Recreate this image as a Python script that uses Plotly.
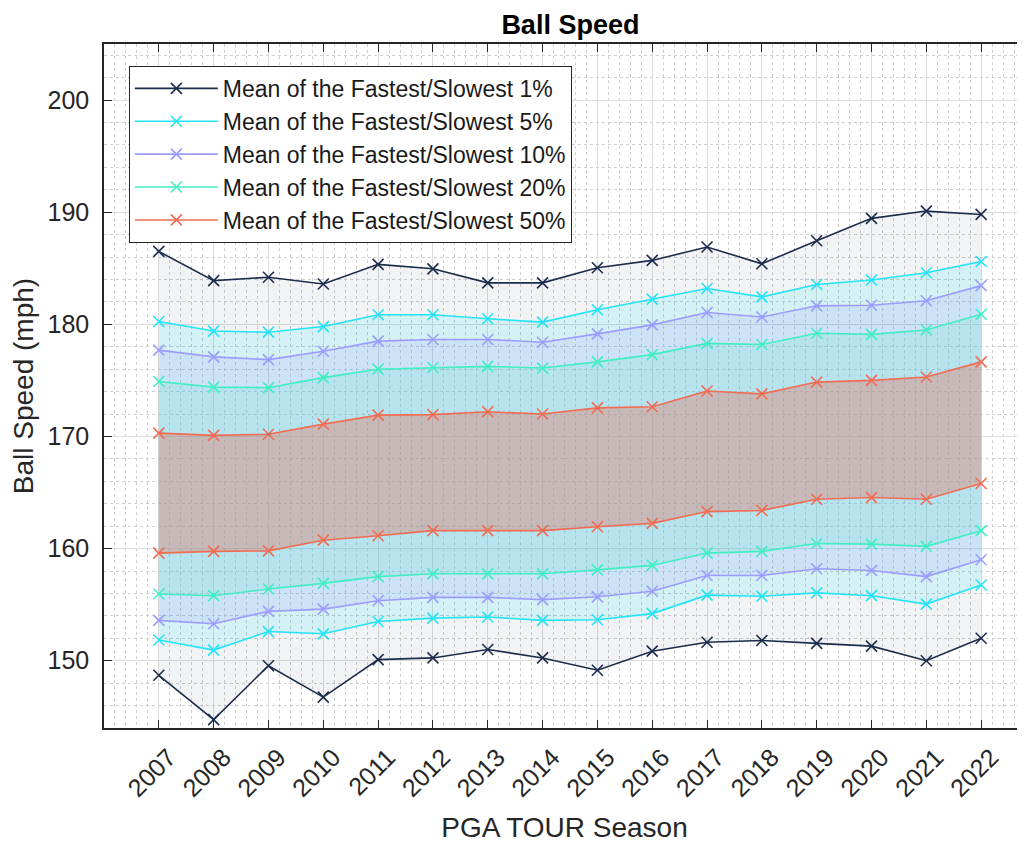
import plotly.graph_objects as go

years = [2007, 2008, 2009, 2010, 2011, 2012, 2013, 2014, 2015, 2016, 2017, 2018, 2019, 2020, 2021, 2022]

top1 = [186.5, 183.9, 184.2, 183.6, 185.35, 184.95, 183.7, 183.7, 185.05, 185.7, 186.9, 185.4, 187.45, 189.45, 190.1, 189.8]
bot1 = [148.7, 144.75, 149.55, 146.75, 150.1, 150.25, 151.0, 150.25, 149.15, 150.85, 151.65, 151.8, 151.55, 151.3, 150.0, 152.0]
top5 = [180.25, 179.4, 179.3, 179.8, 180.85, 180.85, 180.5, 180.2, 181.3, 182.25, 183.2, 182.45, 183.55, 183.95, 184.6, 185.6]
bot5 = [151.85, 150.95, 152.6, 152.4, 153.5, 153.8, 153.9, 153.6, 153.65, 154.2, 155.85, 155.75, 156.05, 155.8, 155.05, 156.75]
top10 = [177.7, 177.1, 176.85, 177.6, 178.5, 178.65, 178.65, 178.4, 179.15, 179.95, 181.05, 180.65, 181.65, 181.7, 182.1, 183.45]
bot10 = [153.6, 153.3, 154.4, 154.6, 155.35, 155.65, 155.65, 155.45, 155.7, 156.2, 157.6, 157.6, 158.2, 158.05, 157.5, 159.0]
top20 = [174.9, 174.4, 174.35, 175.25, 176.0, 176.15, 176.25, 176.1, 176.65, 177.3, 178.3, 178.2, 179.2, 179.1, 179.5, 180.9]
bot20 = [155.95, 155.8, 156.4, 156.9, 157.5, 157.75, 157.75, 157.75, 158.1, 158.5, 159.6, 159.75, 160.45, 160.4, 160.2, 161.6]
top50 = [170.3, 170.1, 170.2, 171.1, 171.9, 171.95, 172.2, 172.0, 172.55, 172.65, 174.05, 173.8, 174.85, 175.0, 175.3, 176.65]
bot50 = [159.6, 159.75, 159.8, 160.75, 161.15, 161.6, 161.6, 161.6, 161.95, 162.25, 163.3, 163.4, 164.4, 164.55, 164.4, 165.8]

names = ["Mean of the Fastest/Slowest 1%", "Mean of the Fastest/Slowest 5%",
         "Mean of the Fastest/Slowest 10%", "Mean of the Fastest/Slowest 20%",
         "Mean of the Fastest/Slowest 50%"]
tops = [top1, top5, top10, top20, top50]
bots = [bot1, bot5, bot10, bot20, bot50]
line_colors = ["#1c2c4c", "#22e4f6", "#9c9cff", "#40efc3", "#f26c52"]
fill_colors = ["rgba(28,44,80,0.06)", "rgba(41,235,251,0.15)", "rgba(160,140,255,0.15)",
               "rgba(60,235,195,0.15)", "rgba(235,105,85,0.35)"]

FONT = "Liberation Sans, Arial, Helvetica, sans-serif"
TXT = "#262626"

fig = go.Figure()
for name, top, bot, lc, fc in zip(names, tops, bots, line_colors, fill_colors):
    fig.add_trace(go.Scatter(
        x=years + years[::-1], y=top + bot[::-1], fill="toself", fillcolor=fc,
        mode="none", showlegend=False, hoverinfo="skip"))
    for i, series in enumerate([top, bot]):
        fig.add_trace(go.Scatter(
            x=years, y=series, mode="lines+markers", name=name,
            showlegend=(i == 0), legendgroup=name,
            line=dict(color=lc, width=1.6),
            marker=dict(symbol="x-thin", size=11, color=lc, line=dict(color=lc, width=1.6))))

grid_major = "#dcdcdc"
grid_minor = "#cfcfcf"

# page body has an 8px margin: figure is sized so that the plot box lands where the reference has it
fig.update_layout(
    width=1017, height=835,
    margin=dict(l=96, r=0, t=36, b=115),
    paper_bgcolor="white", plot_bgcolor="white",
    font=dict(family=FONT, color=TXT),
    title=dict(text="<b>Ball Speed</b>", x=0.553, xref="container", xanchor="center",
               y=0.9805, yref="container", yanchor="middle",
               font=dict(family=FONT, size=27, color="black")),
    legend=dict(x=0.027, y=0.968, xanchor="left", yanchor="top",
                bgcolor="white", bordercolor=TXT, borderwidth=1,
                font=dict(family=FONT, size=23, color="#1a1a1a"),
                itemwidth=83, tracegroupgap=0),
    xaxis=dict(
        range=[2006, 2022.8], tickvals=years, ticktext=[str(y) for y in years],
        tickangle=-45, tickfont=dict(family=FONT, size=25, color=TXT),
        ticks="inside", ticklen=8, tickcolor=TXT, tickwidth=1,
        ticklabelshift=10, ticklabelstandoff=3,
        showline=True, linecolor=TXT, linewidth=1.5, mirror="ticks",
        showgrid=True, gridcolor=grid_major, gridwidth=1, zeroline=False,
        automargin=False,
        minor=dict(dtick=0.2, tick0=2006, showgrid=True, gridcolor=grid_minor,
                   griddash="dot", gridwidth=1, ticks=""),
        title=dict(text="PGA TOUR Season", font=dict(family=FONT, size=28, color=TXT), standoff=17),
    ),
    yaxis=dict(
        range=[144, 205], dtick=10, tick0=0,
        tickfont=dict(family=FONT, size=25, color=TXT),
        ticks="inside", ticklen=8, tickcolor=TXT, tickwidth=1,
        showline=True, linecolor=TXT, linewidth=1.5, mirror=False,
        showgrid=True, gridcolor=grid_major, gridwidth=1, zeroline=False,
        ticklabelstandoff=8, automargin=False,
        minor=dict(dtick=2, tick0=0, showgrid=True, gridcolor=grid_minor,
                   griddash="dot", gridwidth=1, ticks=""),
        title=dict(text="Ball Speed (mph)", font=dict(family=FONT, size=28, color=TXT), standoff=10),
    ),
)

fig.write_html("out.html")
